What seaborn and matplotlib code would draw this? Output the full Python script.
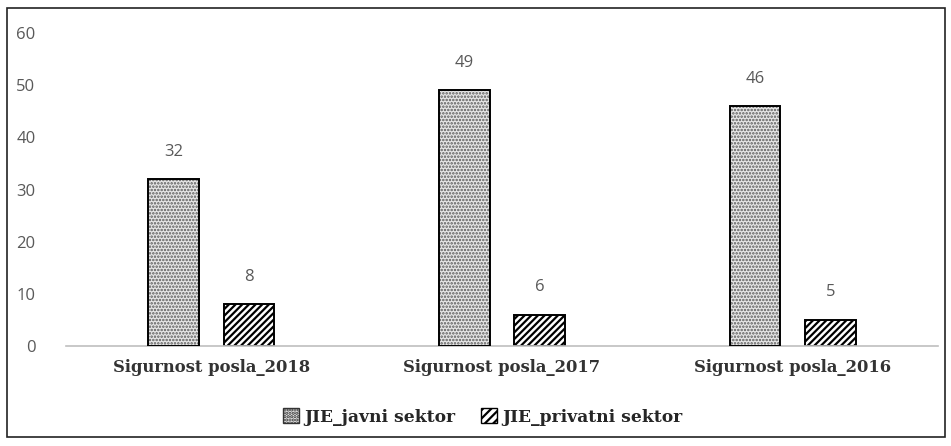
import matplotlib
matplotlib.use("Agg")
import matplotlib.pyplot as plt
import seaborn as sns
import pandas as pd
from matplotlib.patches import Rectangle

categories = ["Sigurnost posla_2018", "Sigurnost posla_2017", "Sigurnost posla_2016"]
series_names = ["JIE_javni sektor", "JIE_privatni sektor"]
javni = [32, 49, 46]
privatni = [8, 6, 5]
y_ticks = [0, 10, 20, 30, 40, 50, 60]

df = pd.DataFrame({
    "kategorija": categories * 2,
    "serija": [series_names[0]] * 3 + [series_names[1]] * 3,
    "vrijednost": javni + privatni,
})

sns.set_theme(style="white")
plt.rcParams["hatch.linewidth"] = 1.6

DOT_HATCH = "....."
LINE_HATCH = "/////"

fig = plt.figure(figsize=(9.51, 4.46), dpi=100)
ax = fig.add_axes([66 / 951, 1 - 346 / 446, (938 - 66) / 951, (346 - 33) / 446])

sns.barplot(data=df, x="kategorija", y="vrijednost", hue="serija",
            order=categories, hue_order=series_names,
            palette=["white", "white"], width=0.52, gap=0.33,
            edgecolor="black", linewidth=1.4, ax=ax, legend=False)


def dot_style(patch):
    patch.set_hatch(DOT_HATCH)
    patch.set_edgecolor("#5a5a5a")
    patch.set_facecolor("#e6e6e6")
    if hasattr(patch, "set_hatch_linewidth"):
        patch.set_hatch_linewidth(1.2)


dot_bars, line_bars = ax.containers[0], ax.containers[1]
for bar in dot_bars:
    dot_style(bar)
    bar.set_linewidth(0)
    # crisp black outline on top of the dotted fill
    ax.add_patch(Rectangle(bar.get_xy(), bar.get_width(), bar.get_height(),
                           fill=False, edgecolor="black", linewidth=1.4, zorder=3))
for bar in line_bars:
    bar.set_hatch(LINE_HATCH)

for container in ax.containers:
    ax.bar_label(container, padding=14, fontsize=12, color="#595959",
                 family="Open Sans")

ax.set_ylim(0, 60)
ax.set_xlim(-0.5, 2.5)
ax.set_yticks(y_ticks)
ax.set_yticklabels([str(t) for t in y_ticks], fontsize=12, color="#595959",
                   family="Open Sans")
ax.tick_params(axis="y", length=0, pad=22)
ax.tick_params(axis="x", length=0, pad=9)
ax.set_xticklabels(categories, fontsize=11.8, family="DejaVu Serif",
                   fontweight="bold", color="#333333")
ax.set_xlabel("")
ax.set_ylabel("")
for s in ["top", "right", "left"]:
    ax.spines[s].set_visible(False)
ax.spines["bottom"].set_color("#bfbfbf")
ax.spines["bottom"].set_linewidth(1.2)

h1 = Rectangle((0, 0), 1, 1, edgecolor="#555555")
dot_style(h1)
h1.set_edgecolor("#333333")
h2 = Rectangle((0, 0), 1, 1, facecolor="white", edgecolor="black", hatch="////")
fig.legend([h1, h2], series_names, loc="center", bbox_to_anchor=(483 / 951, 1 - 417 / 446),
           ncol=2, frameon=False, handlelength=0.9, handleheight=0.95,
           handletextpad=0.35, columnspacing=1.5,
           prop={"family": "DejaVu Serif", "weight": "bold", "size": 12.3})

fig.patches.append(Rectangle((7 / 951, 1 - 437 / 446), (945 - 7) / 951, (437 - 8) / 446,
                             transform=fig.transFigure, fill=False,
                             edgecolor="#222222", linewidth=1.2))

fig.savefig("out.png", dpi=100)
